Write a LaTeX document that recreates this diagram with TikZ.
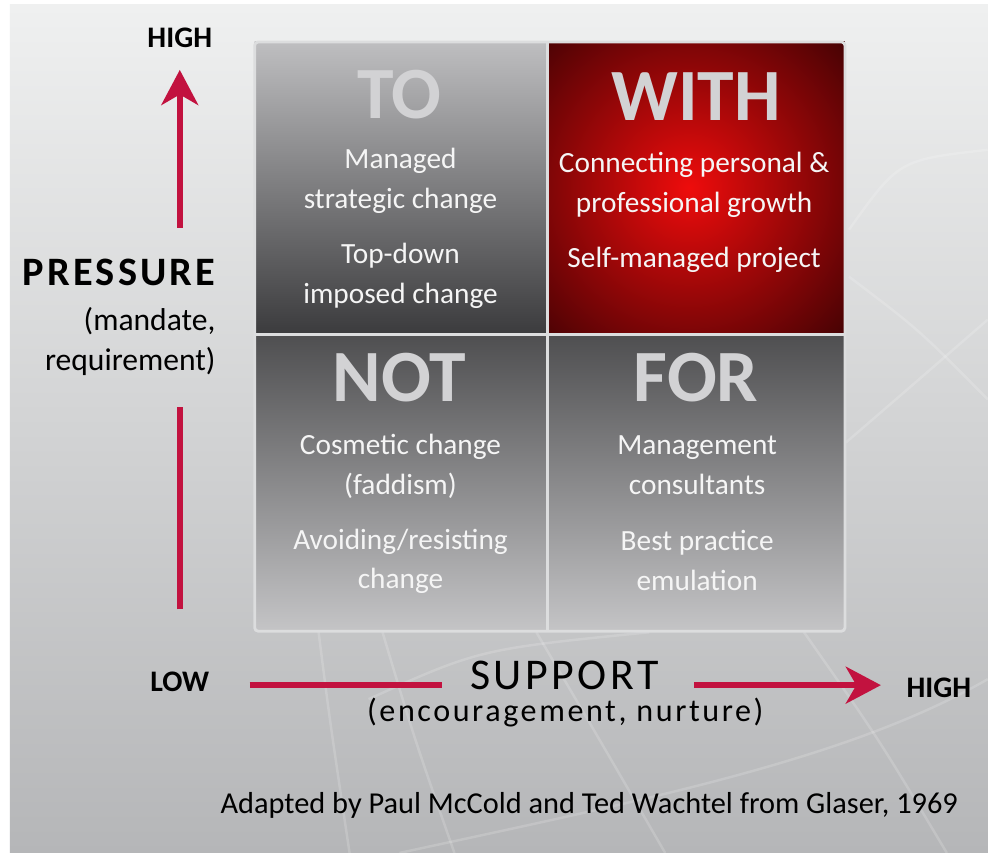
\documentclass[tikz,border=0pt]{standalone}
\usepackage{fontspec}
\setmainfont{Carlito}
\newfontfamily\axisfont[LetterSpace=8]{Carlito}
\usetikzlibrary{arrows.meta}

\definecolor{bgtop}{HTML}{EFF0F0}
\definecolor{bgbot}{HTML}{B5B6B8}
\definecolor{arrowred}{HTML}{C2123F}
\definecolor{headgrey}{HTML}{D2D2D4}
\definecolor{textwhite}{HTML}{F5F5F5}
\definecolor{gridline}{HTML}{DCDDDE}
\definecolor{greylight}{HTML}{BEBEC0}
\definecolor{greydark}{HTML}{3B3B3D}
\definecolor{withred}{HTML}{EE0C0C}
\definecolor{withdark}{HTML}{220002}

\tikzset{
  globe/.style={draw=white, opacity=0.17, line width=1.4pt},
  cellhead/.style={font=\bfseries\fontsize{42}{42}\selectfont, text=headgrey},
  celltext/.style={font=\fontsize{16.7}{22.7}\selectfont, text=textwhite, align=center},
  sidelabel/.style={font=\bfseries\fontsize{17}{17}\selectfont, text=black},
  axisarrow/.style={draw=arrowred, line width=3.3pt, -{Stealth[length=20pt,width=21pt,inset=6pt]}},
  axisline/.style={draw=arrowred, line width=3.3pt},
}

\begin{document}
\begin{tikzpicture}[x=0.02cm,y=-0.02cm]
  \fill[white] (0,0) rectangle (989,854);
  \shade[top color=bgtop, bottom color=bgbot] (10,5) rectangle (989,854);

  \draw[globe] (319,633) .. controls (330,720) .. (350,854);
  \draw[globe] (383,633) .. controls (415,740) .. (455,854);
  \draw[globe] (537,633) .. controls (600,740) .. (666,854);
  \draw[globe] (805,633) .. controls (880,740) .. (948,854);
  \draw[globe] (369,700) .. controls (480,650) .. (650,633);
  \draw[globe] (400,854) .. controls (650,800) and (850,760) .. (989,680);
  \draw[globe] (847,443) .. controls (920,380) .. (989,320);
  \draw[globe] (850,277) .. controls (920,330) .. (989,400);
  \draw[globe] (850,230) .. controls (900,160) .. (989,150);

  \shade[top color=greylight, bottom color=greydark] (255,42) rectangle (548,335);
  \begin{scope}
    \clip (548,42) rectangle (846,335);
    \shade[inner color=withred, outer color=withdark] (690,188) circle (260);
  \end{scope}
  \shade[top color=greydark!90!white, bottom color=greylight!90!white] (255,335) rectangle (548,632);
  \shade[top color=greydark!90!white, bottom color=greylight!90!white] (548,335) rectangle (846,632);
  \draw[gridline, line width=1.6pt, rounded corners=2pt] (255,42) rectangle (846,632);
  \draw[gridline, line width=1.6pt] (548,42) -- (548,632);
  \draw[gridline, line width=1.6pt] (255,335) -- (846,335);

  \node[cellhead] (toHead) at (400,95) {TO};
  \node[cellhead] (withHead) at (697,97) {WITH};
  \node[cellhead] (notHead) at (400,378) {NOT};
  \node[cellhead] (forHead) at (697,378) {FOR};

  \node[celltext] (toA) at (401,181) {Managed\\strategic change};
  \node[celltext] (toB) at (401,276) {Top-down\\imposed change};
  \node[celltext] (withA) at (695,185) {Connecting personal \&\\professional growth};
  \node[celltext] (withB) at (695,260) {Self-managed project};
  \node[celltext] (notA) at (401,467) {Cosmetic change\\(faddism)};
  \node[celltext] (notB) at (401,562) {Avoiding/resisting\\change};
  \node[celltext] (forA) at (698,466) {Management\\consultants};
  \node[celltext] (forB) at (698,561) {Best practice\\emulation};

  \node[sidelabel] (pressureHigh) at (180,38) {HIGH};
  \node[font=\axisfont\bfseries\fontsize{23}{23}\selectfont, anchor=east] (pressure) at (222,273) {PRESSURE};
  \node[font=\fontsize{18}{22.7}\selectfont, align=right, anchor=east] (pressureNote) at (222,342) {(mandate,\\requirement)};

  \node[sidelabel] (supportLow) at (180,683) {LOW};
  \node[font=\axisfont\fontsize{25}{25}\selectfont] (support) at (565,676) {SUPPORT};
  \node[font=\axisfont\fontsize{18.3}{18.3}\selectfont] (supportNote) at (566,713) {(encouragement, nurture)};
  \node[sidelabel] (supportHigh) at (940,689) {HIGH};

  \node[font=\fontsize{17.3}{17.3}\selectfont] (credit) at (590,806) {Adapted by Paul McCold and Ted Wachtel from Glaser, 1969};

  \coordinate (pressureFoot) at (180,228);
  \coordinate (pressureTip) at (180,70);
  \coordinate (pressureLow) at (180,610);
  \coordinate (pressureMid) at (180,408);
  \coordinate (supportStart) at (250,686);
  \coordinate (supportGap) at (443,686);
  \coordinate (supportResume) at (695,686);
  \coordinate (supportTip) at (882,686);

  \draw[axisarrow] (pressureFoot) -- (pressureTip);
  \draw[axisline] (pressureLow) -- (pressureMid);
  \draw[axisline] (supportStart) -- (supportGap);
  \draw[axisarrow] (supportResume) -- (supportTip);
\end{tikzpicture}
\end{document}
